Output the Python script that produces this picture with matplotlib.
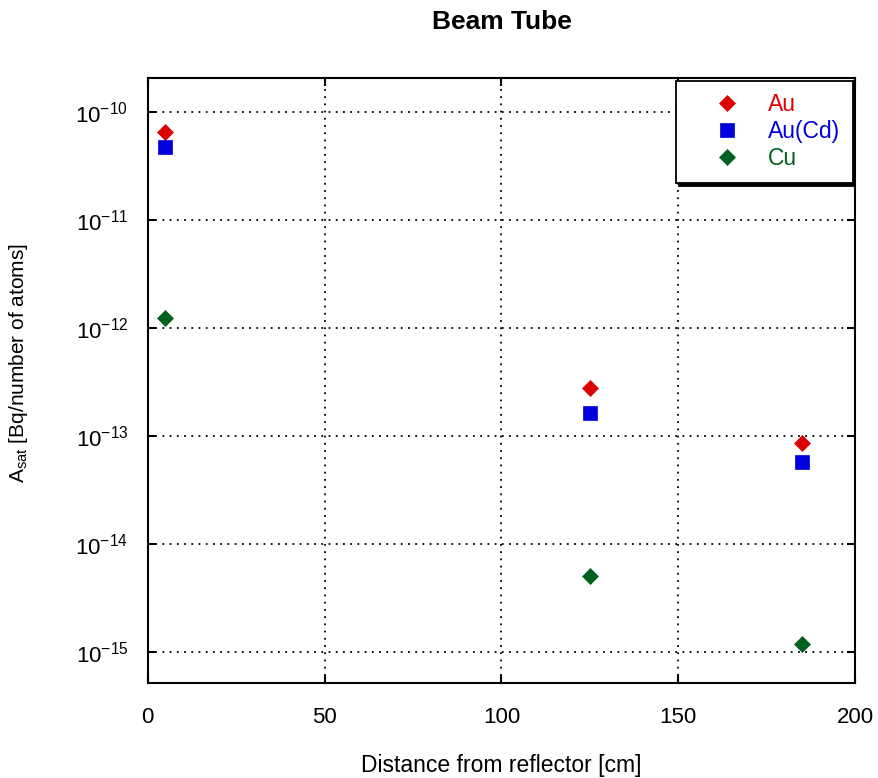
import matplotlib
matplotlib.use("Agg")
import matplotlib.pyplot as plt
from matplotlib.ticker import LogLocator, NullLocator

plt.rcParams['font.family'] = ['Liberation Sans', 'DejaVu Sans']
plt.rcParams['mathtext.fontset'] = 'custom'
plt.rcParams['mathtext.rm'] = 'Liberation Sans'
plt.rcParams['mathtext.it'] = 'Liberation Sans:italic'
plt.rcParams['mathtext.bf'] = 'Liberation Sans:bold'

# Distance from reflector (cm)
distance = [5, 125, 185]

# Saturation activity per atom (Bq)
au = [6.5e-11, 2.78e-13, 8.6e-14]
au_cd = [4.7e-11, 1.63e-13, 5.75e-14]
cu = [1.24e-12, 5.06e-15, 1.19e-15]

series_names = ['Au', 'Au(Cd)', 'Cu']
series_colors = ['#dd0000', '#0000dd', '#006020']
series_markers = ['D', 's', 'D']
series_sizes = [8, 10, 8]

x_ticks = [0, 50, 100, 150, 200]

fig = plt.figure(figsize=(8.79, 7.78), dpi=100)
ax = fig.add_axes([0.168, 0.122, 0.805, 0.778])

for vals, name, col, mk, ms in zip([au, au_cd, cu], series_names,
                                   series_colors, series_markers, series_sizes):
    ax.plot(distance, vals, linestyle='none', marker=mk, color=col,
            markersize=ms, markeredgewidth=0.5, label=name)

ax.set_yscale('log')
ax.set_xlim(0, 200)
ax.set_ylim(10 ** -15.29, 10 ** -9.685)
ax.set_xticks(x_ticks)
ax.yaxis.set_major_locator(LogLocator(base=10, numticks=20))
ax.yaxis.set_minor_locator(NullLocator())

ax.grid(True, which='major', color='black', linestyle=(0, (1, 3)), linewidth=1.3)

for s in ax.spines.values():
    s.set_linewidth(1.5)
ax.tick_params(axis='both', which='major', direction='in', length=6, width=1.5,
               top=True, right=True, labelsize=16)
ax.tick_params(axis='x', pad=17)
ax.tick_params(axis='y', pad=14)

ax.set_title('Beam Tube', fontsize=19, fontweight='bold', pad=35)
ax.set_xlabel('Distance from reflector [cm]', fontsize=16.5, labelpad=19)
ax.set_ylabel('A$_{\\rm sat}$ [Bq/number of atoms]', fontsize=15)
ax.yaxis.set_label_coords(-0.167, 0.529)

leg = ax.legend(loc='upper right', fontsize=16.5, frameon=True, fancybox=False,
                edgecolor='black', borderaxespad=0.12, handletextpad=0.15,
                borderpad=0.55, labelspacing=0.18, handlelength=3.3,
                shadow={'color': 'black', 'alpha': 1.0})
leg.get_frame().set_linewidth(1.3)
for txt, col in zip(leg.get_texts(), series_colors):
    txt.set_color(col)

fig.savefig('out.png', dpi=100)
